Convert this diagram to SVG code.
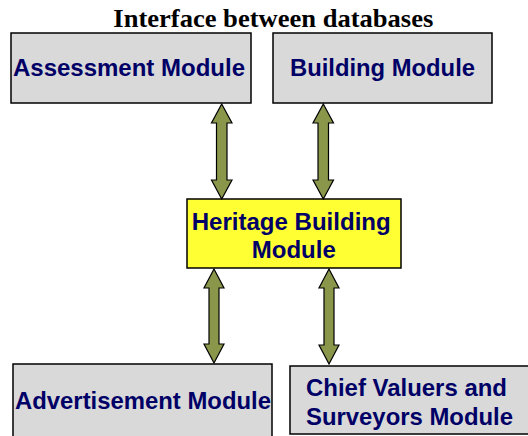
<svg xmlns="http://www.w3.org/2000/svg" width="528" height="436" viewBox="0 0 528 436">
<style>
.box{fill:#d9d9d9;stroke:#000;stroke-width:1.5}
.hb{fill:#ffff33;stroke:#000;stroke-width:1.5}
.lbl{font-family:"Liberation Sans",Arial,sans-serif;font-weight:bold;font-size:24px;fill:#000066;text-anchor:middle}
.arr{fill:#8a964a;stroke:#000;stroke-width:1.2;stroke-linejoin:miter}
.title{font-family:"Liberation Serif","Times New Roman",serif;font-weight:bold;font-size:26px;fill:#000;text-anchor:middle}
</style>
<rect width="528" height="436" fill="#fff"/>
<text class="title" x="273.3" y="27" textLength="320" lengthAdjust="spacingAndGlyphs">Interface between databases</text>
<g id="assessment"><rect class="box" x="11" y="33" width="240" height="70"/><text class="lbl" x="129" y="76" textLength="232" lengthAdjust="spacingAndGlyphs">Assessment Module</text></g>
<g id="building"><rect class="box" x="273" y="33" width="219" height="70"/><text class="lbl" x="382.5" y="76" textLength="185" lengthAdjust="spacingAndGlyphs">Building Module</text></g>
<g id="heritage"><rect class="hb" x="187" y="199" width="214" height="69"/><text class="lbl" x="291.2" y="230" textLength="199" lengthAdjust="spacingAndGlyphs">Heritage Building</text><text class="lbl" x="293.8" y="257.5" textLength="84" lengthAdjust="spacingAndGlyphs">Module</text></g>
<g id="advertisement"><rect class="box" x="13" y="364" width="259" height="80"/><text class="lbl" x="143" y="409" textLength="256" lengthAdjust="spacingAndGlyphs">Advertisement Module</text></g>
<g id="chief"><rect class="box" x="290" y="366" width="250" height="68"/><text class="lbl" x="406.5" y="396" textLength="201" lengthAdjust="spacingAndGlyphs">Chief Valuers and</text><text class="lbl" x="409.5" y="425" textLength="207" lengthAdjust="spacingAndGlyphs">Surveyors Module</text></g>
<g id="connectors">
<path class="arr" d="M221.7,104 L232,123 L227,123 L227,180 L232,180 L221.7,199 L211.5,180 L216.5,180 L216.5,123 L211.5,123 Z"/>
<path class="arr" d="M323.3,104 L333.5,123 L328.5,123 L328.5,180 L333.5,180 L323.3,199 L313,180 L318,180 L318,123 L313,123 Z"/>
<path class="arr" d="M214,269 L224,288 L219,288 L219,344 L224,344 L214,363 L204,344 L209,344 L209,288 L204,288 Z"/>
<path class="arr" d="M329,269 L339,288 L334,288 L334,345 L339,345 L329,364 L319,345 L324,345 L324,288 L319,288 Z"/>
</g>
</svg>
